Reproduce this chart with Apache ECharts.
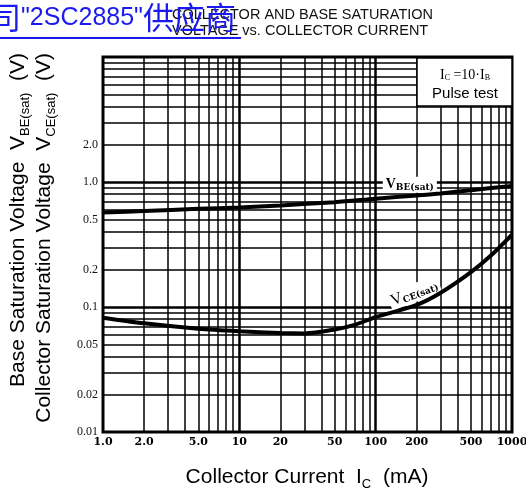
<!DOCTYPE html>
<html>
<head>
<meta charset="utf-8">
<script src="https://cdn.jsdelivr.net/npm/echarts@6/dist/echarts.min.js"></script>
<style>
html, body { margin: 0; padding: 0; background: #fff; }
#main { width: 526px; height: 493px; }
</style>
</head>
<body>
<div id="main"></div>
<script>
// axis range (log-log)
var xMin = 1, xMax = 1000;
var yMin = 0.01, yMax = 10;

// tick labels
var xTickVals = [1, 2, 5, 10, 20, 50, 100, 200, 500, 1000];
var xTickText = ['1.0', '2.0', '5.0', '10', '20', '50', '100', '200', '500', '1000'];
var yTickVals = [0.01, 0.02, 0.05, 0.1, 0.2, 0.5, 1, 2];
var yTickText = ['0.01', '0.02', '0.05', '0.1', '0.2', '0.5', '1.0', '2.0'];

// log paper grid
var xGridMinor = [2, 3, 4, 5, 6, 7, 8, 9, 20, 30, 40, 50, 60, 70, 80, 90, 200, 300, 400, 500, 600, 700, 800, 900];
var xGridMajor = [10, 100];
var yGridMinor = [0.02, 0.03, 0.04, 0.05, 0.06, 0.07, 0.08, 0.09, 0.2, 0.3, 0.4, 0.5, 0.6, 0.7, 0.8, 0.9, 2, 3, 4, 5, 6, 7, 8, 9];
var yGridMajor = [0.1, 1];

// V_BE(sat)
var vbeIc = [1, 2, 5, 10, 20, 50, 100, 200, 300, 500, 1000];
var vbeV = [0.57, 0.585, 0.61, 0.625, 0.65, 0.69, 0.735, 0.78, 0.81, 0.86, 0.93];

// V_CE(sat)
var vceIc = [1, 2, 5, 10, 20, 30, 50, 70, 100, 200, 300, 500, 700, 1000];
var vceV = [0.082, 0.074, 0.067, 0.064, 0.062, 0.0615, 0.066, 0.072, 0.083, 0.104, 0.13, 0.19, 0.258, 0.38];

function pairs(xs, ys) {
    var out = [];
    for (var i = 0; i < xs.length; i++) out.push([xs[i], ys[i]]);
    return out;
}

function labelOf(v, vals, texts) {
    var i = vals.indexOf(v);
    return i < 0 ? null : texts[i];
}

function extend(a, b) {
    for (var k in b) a[k] = b[k];
    return a;
}

var xLabelStyle = { fontFamily: 'DejaVu Serif', fontSize: 11, fontWeight: 'bold', color: '#000' };
var yLabelStyle = { fontFamily: 'Liberation Serif', fontSize: 12, color: '#111' };

/*竖线*/
function vLine(v, w) {
    var t = labelOf(v, xTickVals, xTickText);
    return [{
        coord: [v, yMin],
        lineStyle: { width: w },
        label: extend({ show: t != null, formatter: t || '', position: 'start', distance: 5 }, xLabelStyle)
    }, { coord: [v, yMax] }];
}
/*横线*/
function hLine(v, w) {
    var t = labelOf(v, yTickVals, yTickText);
    return [{
        coord: [xMin, v],
        lineStyle: { width: w },
        label: extend({ show: t != null, formatter: t || '', position: 'start', distance: 5 }, yLabelStyle)
    }, { coord: [xMax, v] }];
}

var gridLines = [];
gridLines.push(vLine(xMin, 0));
xGridMinor.forEach(function (v) { gridLines.push(vLine(v, 1.5)); });
xGridMajor.forEach(function (v) { gridLines.push(vLine(v, 2.5)); });
gridLines.push(vLine(xMax, 0));
gridLines.push(hLine(yMin, 0));
yGridMinor.forEach(function (v) { gridLines.push(hLine(v, 1.5)); });
yGridMajor.forEach(function (v) { gridLines.push(hLine(v, 2.5)); });

var subRich = {
    t: { fontFamily: 'Liberation Sans', fontSize: 21, color: '#000' },
    s: { fontFamily: 'Liberation Sans', fontSize: 13, color: '#000', verticalAlign: 'bottom', padding: [0, 0, -3, 0] }
};

var option = {
    animation: false,
    grid: {
        left: 103, right: 14, top: 57, bottom: 61,
        show: true, borderColor: '#000', borderWidth: 3, backgroundColor: 'transparent'
    },
    xAxis: {
        type: 'log', logBase: 10, min: xMin, max: xMax,
        axisLine: { show: false }, axisTick: { show: false },
        axisLabel: { show: false }, splitLine: { show: false }
    },
    yAxis: {
        type: 'log', logBase: 10, min: yMin, max: yMax,
        axisLine: { show: false }, axisTick: { show: false },
        axisLabel: { show: false }, splitLine: { show: false }
    },
    series: [
        {
            name: 'grid',
            type: 'line',
            data: [],
            z: 1,
            silent: true,
            markLine: {
                silent: true,
                symbol: ['none', 'none'],
                animation: false,
                lineStyle: { color: '#000', type: 'solid' },
                emphasis: { disabled: true },
                data: gridLines
            }
        },
        {
            name: 'VBE(sat)',
            type: 'line',
            data: pairs(vbeIc, vbeV),
            z: 5,
            showSymbol: false,
            smooth: 0.3,
            lineStyle: { color: '#000', width: 4 },
            markPoint: {
                symbol: 'circle', symbolSize: 0,
                data: [{ coord: [178, 0.95] }],
                label: {
                    show: true, position: 'inside',
                    formatter: '{v|V}{s|BE(sat)}',
                    backgroundColor: '#fff', padding: [1, 3],
                    rich: {
                        v: { fontFamily: 'Liberation Serif', fontSize: 14, fontWeight: 'bold', color: '#000' },
                        s: { fontFamily: 'DejaVu Serif', fontSize: 9, fontWeight: 'bold', color: '#000', verticalAlign: 'bottom' }
                    }
                }
            }
        },
        {
            name: 'VCE(sat)',
            type: 'line',
            data: pairs(vceIc, vceV),
            z: 5,
            showSymbol: false,
            smooth: 0.3,
            lineStyle: { color: '#000', width: 4 },
            markPoint: {
                symbol: 'circle', symbolSize: 0,
                data: [{ coord: [192, 0.13] }],
                label: {
                    show: true, position: 'inside', rotate: 21,
                    formatter: '{v|V}{s|CE(sat)}',
                    backgroundColor: '#fff', padding: [1, 2],
                    rich: {
                        v: { fontFamily: 'Liberation Serif', fontSize: 16, color: '#000' },
                        s: { fontFamily: 'DejaVu Serif', fontSize: 9, fontWeight: 'bold', color: '#000', verticalAlign: 'bottom' }
                    }
                }
            }
        }
    ],
    graphic: [
        // link text overlapping the scan header
        {
            type: 'text', left: -10, top: 2, z: 100,
            style: {
                text: '{c|司}{l|"2SC2885"}{c|供应商}',
                rich: {
                    c: { fontFamily: 'Noto Sans CJK SC', fontSize: 31, fill: '#1a1aee' },
                    l: { fontFamily: 'Liberation Sans', fontSize: 25, fill: '#1a1aee', verticalAlign: 'bottom', padding: [0, 0, 2, 0] }
                }
            }
        },
        { type: 'rect', z: 100, shape: { x: 0, y: 37, width: 241, height: 2 }, style: { fill: '#1a1aee' } },
        // chart title
        {
            type: 'text', x: 172, y: 15, z: 99,
            style: { text: 'COLLECTOR AND BASE SATURATION', fontFamily: 'Liberation Sans', fontSize: 14.5, fill: '#111', textVerticalAlign: 'middle' }
        },
        {
            type: 'text', x: 172, y: 31, z: 99,
            style: { text: 'VOLTAGE vs. COLLECTOR CURRENT', fontFamily: 'Liberation Sans', fontSize: 14.5, fill: '#111', textVerticalAlign: 'middle' }
        },
        // condition box
        {
            type: 'rect', z: 100,
            shape: { x: 417, y: 58, width: 95, height: 48 },
            style: { fill: '#fff', stroke: '#000', lineWidth: 1.5 }
        },
        {
            type: 'text', x: 465, y: 75, z: 101,
            style: {
                text: '{i|I}{s|C}{i| =10·I}{s|B}',
                textAlign: 'center', textVerticalAlign: 'middle',
                rich: {
                    i: { fontFamily: 'Liberation Serif', fontSize: 14, fill: '#000' },
                    s: { fontFamily: 'Liberation Serif', fontSize: 8, fill: '#000', verticalAlign: 'bottom' }
                }
            }
        },
        {
            type: 'text', x: 465, y: 94, z: 101,
            style: { text: 'Pulse test', fontFamily: 'Liberation Sans', fontSize: 15, fill: '#000', textAlign: 'center', textVerticalAlign: 'middle' }
        },
        // y axis names
        {
            type: 'text', x: 18, y: 53, rotation: Math.PI / 2, z: 100,
            style: {
                text: '{t|Base Saturation Voltage  V}{s|BE(sat)}{t|  (V)}',
                textAlign: 'right', textVerticalAlign: 'middle', rich: subRich
            }
        },
        {
            type: 'text', x: 44, y: 53, rotation: Math.PI / 2, z: 100,
            style: {
                text: '{t|Collector Saturation Voltage  V}{s|CE(sat)}{t|  (V)}',
                textAlign: 'right', textVerticalAlign: 'middle', rich: subRich
            }
        },
        // x axis name
        {
            type: 'text', x: 307, y: 477, z: 100,
            style: {
                text: '{t|Collector Current  I}{s|C}{t|  (mA)}',
                textAlign: 'center', textVerticalAlign: 'middle', rich: subRich
            }
        }
    ]
};

var myChart = echarts.init(document.getElementById('main'));
myChart.setOption(option);
</script>
</body>
</html>
